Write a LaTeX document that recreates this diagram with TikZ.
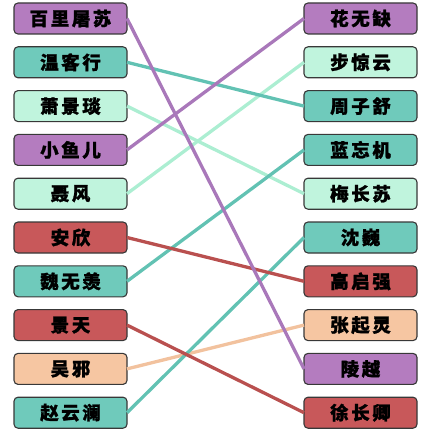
\documentclass[tikz,border=0pt]{standalone}
\usepackage{fontspec}
\newfontfamily\cjk[LetterSpace=14,FakeBold=1.2]{Noto Sans CJK SC}
\usetikzlibrary{positioning}
\definecolor{purplebox}{HTML}{B47CBF}
\definecolor{tealbox}{HTML}{6FCABB}
\definecolor{mintbox}{HTML}{C0F4DD}
\definecolor{redbox}{HTML}{C8585A}
\definecolor{peachbox}{HTML}{F6C6A2}
\definecolor{purpleline}{HTML}{A978BA}
\definecolor{tealline}{HTML}{62C2B3}
\definecolor{mintline}{HTML}{ACEED2}
\definecolor{redline}{HTML}{B9504F}
\definecolor{peachline}{HTML}{F2C29E}

\begin{document}
\begin{tikzpicture}[
    x=1pt, y=1pt,
    node distance=12.8pt,
    namebox/.style={draw=black!78, line width=1.1pt, rounded corners=4pt, minimum width=113pt, minimum height=31pt, outer sep=0pt, inner sep=0pt, font=\cjk\bfseries\fontsize{18.5}{18.5}\selectfont},
    wire/.style={line width=3.3pt},
]
    \useasboundingbox (0,0) rectangle (429,-433);

    % Left column
    \node[namebox, fill=purplebox] (tusu) at (70.5,-18.5) {百里屠苏};
    \node[namebox, fill=tealbox, below=of tusu] (kexing) {温客行};
    \node[namebox, fill=mintbox, below=of kexing] (jingyan) {萧景琰};
    \node[namebox, fill=purplebox, below=of jingyan] (yuer) {小鱼儿};
    \node[namebox, fill=mintbox, below=of yuer] (niefeng) {聂风};
    \node[namebox, fill=redbox, below=of niefeng] (anxin) {安欣};
    \node[namebox, fill=tealbox, below=of anxin] (wuxian) {魏无羡};
    \node[namebox, fill=redbox, below=of wuxian] (jingtian) {景天};
    \node[namebox, fill=peachbox, below=of jingtian] (wuxie) {吴邪};
    \node[namebox, fill=tealbox, below=of wuxie] (yunlan) {赵云澜};

    % Right column
    \node[namebox, fill=purplebox] (wuque) at (360.5,-18.5) {花无缺};
    \node[namebox, fill=mintbox, below=of wuque] (jingyun) {步惊云};
    \node[namebox, fill=tealbox, below=of jingyun] (zishu) {周子舒};
    \node[namebox, fill=tealbox, below=of zishu] (wangji) {蓝忘机};
    \node[namebox, fill=mintbox, below=of wangji] (changsu) {梅长苏};
    \node[namebox, fill=tealbox, below=of changsu] (shenwei) {沈巍};
    \node[namebox, fill=redbox, below=of shenwei] (qiqiang) {高启强};
    \node[namebox, fill=peachbox, below=of qiqiang] (qiling) {张起灵};
    \node[namebox, fill=purplebox, below=of qiling] (lingyue) {陵越};
    \node[namebox, fill=redbox, below=of lingyue] (changqing) {徐长卿};

    % Links
    \draw[wire, mintline] (jingyan.east) -- (changsu.west);
    \draw[wire, mintline] (niefeng.east) -- (jingyun.west);
    \draw[wire, peachline] (wuxie.east) -- (qiling.west);
    \draw[wire, tealline] (kexing.east) -- (zishu.west);
    \draw[wire, tealline] (wuxian.east) -- (wangji.west);
    \draw[wire, tealline] (yunlan.east) -- (shenwei.west);
    \draw[wire, redline] (anxin.east) -- (qiqiang.west);
    \draw[wire, redline] (jingtian.east) -- (changqing.west);
    \draw[wire, purpleline] (yuer.east) -- (wuque.west);
    \draw[wire, purpleline] (tusu.east) -- (lingyue.west);
\end{tikzpicture}
\end{document}
